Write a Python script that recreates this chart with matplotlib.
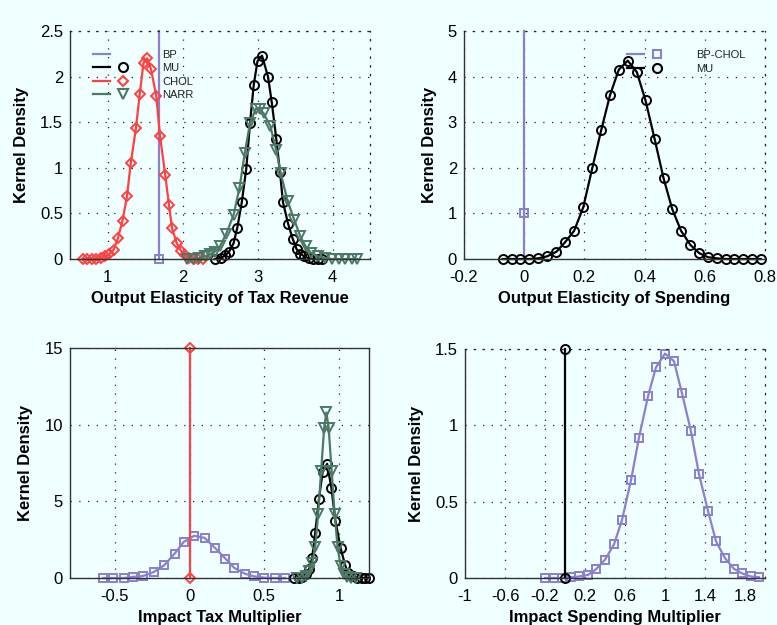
import numpy as np
import matplotlib
matplotlib.use('Agg')
import matplotlib.pyplot as plt
from matplotlib.lines import Line2D
from matplotlib.legend_handler import HandlerTuple
from matplotlib.ticker import FormatStrFormatter

plt.rcParams['font.family'] = ['Liberation Sans', 'DejaVu Sans']
plt.rcParams['axes.unicode_minus'] = False

# colours
BG = '#f0ffff'
PURPLE = '#8a80cf'
RED = '#ff4040'
GREEN = '#4d7866'
BLACK = '#000000'

# ---- top left: output elasticity of tax revenue ----
tl_bp_x = [1.69, 1.69]
tl_bp_y = [0.0, 2.5]

tl_mu_x = [2.43, 2.51, 2.57, 2.62, 2.68, 2.73, 2.79, 2.85, 2.90, 2.95, 3.00, 3.06,
           3.14, 3.19, 3.25, 3.30, 3.34, 3.41, 3.47, 3.52, 3.57, 3.62, 3.68, 3.74, 3.80, 3.86]
tl_mu_y = [0.0, 0.01, 0.04, 0.08, 0.17, 0.34, 0.62, 0.99, 1.49, 1.91, 2.17, 2.23,
           2.0, 1.72, 1.32, 0.95, 0.62, 0.38, 0.22, 0.11, 0.06, 0.03, 0.01, 0.0, 0.0, 0.0]

tl_chol_x = [0.67, 0.73, 0.79, 0.85, 0.91, 0.97, 1.02, 1.08, 1.14, 1.20, 1.26, 1.31,
             1.38, 1.43, 1.48, 1.53, 1.58, 1.65, 1.70, 1.77, 1.82, 1.86, 1.92, 1.98,
             2.03, 2.09, 2.15, 2.21, 2.27]
tl_chol_y = [0.0, 0.0, 0.0, 0.0, 0.01, 0.03, 0.05, 0.10, 0.23, 0.42, 0.69, 1.05,
             1.44, 1.81, 2.15, 2.2, 2.08, 1.79, 1.35, 0.92, 0.59, 0.34, 0.18, 0.09,
             0.04, 0.01, 0.0, 0.0, 0.0]

tl_narr_x = [2.06, 2.14, 2.22, 2.30, 2.37, 2.43, 2.50, 2.58, 2.68, 2.76, 2.83, 2.90,
             2.98, 3.03, 3.08, 3.17, 3.25, 3.31, 3.40, 3.49, 3.57, 3.64, 3.71, 3.80,
             3.90, 3.99, 4.08, 4.17, 4.26, 4.33]
tl_narr_y = [0.0, 0.0, 0.01, 0.03, 0.05, 0.08, 0.14, 0.27, 0.48, 0.78, 1.16, 1.49,
             1.65, 1.64, 1.60, 1.46, 1.19, 0.94, 0.64, 0.43, 0.25, 0.14, 0.07, 0.03,
             0.01, 0.0, 0.0, 0.0, 0.0, 0.0]

# ---- top right: output elasticity of spending ----
tr_bp_x = [0.0, 0.0, 0.0]
tr_bp_y = [0.0, 1.0, 5.0]

tr_mu_x = [-0.072, -0.042, -0.013, 0.017, 0.047, 0.077, 0.107, 0.136, 0.166, 0.196,
           0.226, 0.256, 0.285, 0.314, 0.344, 0.374, 0.403, 0.433, 0.463, 0.492,
           0.521, 0.552, 0.581, 0.610, 0.639, 0.669, 0.698, 0.727, 0.757, 0.786]
tr_mu_y = [0.0, 0.0, 0.0, 0.0, 0.015, 0.06, 0.16, 0.37, 0.62, 1.13, 1.99, 2.83,
           3.59, 4.15, 4.35, 4.10, 3.48, 2.64, 1.77, 1.09, 0.62, 0.31, 0.13, 0.04,
           0.015, 0.0, 0.0, 0.0, 0.0, 0.0]

# ---- bottom left: impact tax multiplier ----
bl_bp_x = [-0.58, -0.51, -0.44, -0.38, -0.31, -0.24, -0.17, -0.10, -0.04, 0.03,
           0.10, 0.17, 0.24, 0.30, 0.37, 0.43, 0.50, 0.57, 0.64]
bl_bp_y = [0.0, 0.0, 0.0, 0.07, 0.13, 0.39, 0.83, 1.59, 2.35, 2.75, 2.62, 1.96,
           1.26, 0.65, 0.28, 0.11, 0.02, 0.0, 0.0]

bl_mu_x = [0.70, 0.73, 0.755, 0.78, 0.80, 0.82, 0.84, 0.865, 0.89, 0.92, 0.948,
           0.975, 1.01, 1.04, 1.06, 1.09, 1.12, 1.15, 1.175, 1.20]
bl_mu_y = [0.0, 0.02, 0.08, 0.25, 0.6, 1.3, 2.95, 5.15, 6.9, 7.45, 5.9, 3.75, 1.95,
           0.85, 0.3, 0.1, 0.03, 0.01, 0.0, 0.0]

bl_chol_x = [0.0, 0.0]
bl_chol_y = [0.0, 15.0]

bl_narr_x = [0.72, 0.75, 0.78, 0.80, 0.82, 0.84, 0.86, 0.88, 0.90, 0.915, 0.93,
             0.95, 0.97, 0.99, 1.01, 1.03, 1.05, 1.08, 1.11]
bl_narr_y = [0.0, 0.02, 0.1, 0.45, 1.0, 2.0, 4.2, 7.0, 9.8, 10.8, 9.8, 7.0, 4.2,
             2.0, 0.8, 0.25, 0.05, 0.0, 0.0]

# ---- bottom right: impact spending multiplier ----
br_bp_x = [-0.20, -0.11, -0.03, 0.06, 0.14, 0.23, 0.31, 0.40, 0.49, 0.57, 0.66,
           0.74, 0.83, 0.91, 1.00, 1.09, 1.17, 1.26, 1.34, 1.43, 1.51, 1.60, 1.69,
           1.77, 1.86, 1.94]
br_bp_y = [0.0, 0.0, 0.0, 0.005, 0.01, 0.02, 0.057, 0.12, 0.22, 0.38, 0.64, 0.92,
           1.19, 1.38, 1.47, 1.42, 1.21, 0.96, 0.68, 0.44, 0.24, 0.13, 0.06, 0.03,
           0.01, 0.005]

br_mu_x = [0.0, 0.0]
br_mu_y = [0.0, 1.5]

W, H = 777, 625
fig = plt.figure(figsize=(W / 100, H / 100), dpi=100, facecolor=BG)


def make_axes(left, top, right, bottom):
    return fig.add_axes([left / W, 1 - bottom / H, (right - left) / W, (bottom - top) / H])


def style_axes(ax, xlim, ylim, xticks, yticks, xlabel, solid_box=False):
    ax.set_facecolor(BG)
    ax.set_xlim(xlim)
    ax.set_ylim(ylim)
    ax.set_xticks(xticks)
    ax.set_yticks(yticks)
    ax.xaxis.set_major_formatter(FormatStrFormatter('%g'))
    ax.yaxis.set_major_formatter(FormatStrFormatter('%g'))
    ax.tick_params(length=0, labelsize=12)
    ax.tick_params(axis='x', pad=8)
    ax.tick_params(axis='y', pad=5)
    ax.grid(True, color='#222222', linestyle=(0, (1, 6)), linewidth=0.9)
    ax.set_axisbelow(True)
    for side in ['left', 'bottom']:
        ax.spines[side].set_color('#333333')
        ax.spines[side].set_linewidth(1.0)
    for side in ['top', 'right']:
        if solid_box:
            ax.spines[side].set_color('#333333')
            ax.spines[side].set_linewidth(1.0)
        else:
            ax.spines[side].set_color('#222222')
            ax.spines[side].set_linestyle((0, (1, 6)))
            ax.spines[side].set_linewidth(0.9)
    ax.set_xlabel(xlabel, fontsize=12, fontweight='bold', labelpad=4)
    ax.set_ylabel('Kernel Density', fontsize=12, fontweight='bold', labelpad=8)


def series(ax, x, y, color, marker, ms=6.5, markevery=None):
    ax.plot(x, y, color=color, lw=1.6, marker=marker, ms=ms, mfc='none', mec=color,
            mew=1.4, markevery=markevery, clip_on=False)


def legend_handle(color, marker, ms=6.5):
    line = Line2D([], [], color=color, lw=1.6)
    mk = Line2D([], [], color=color, linestyle='none', marker=marker, ms=ms,
                mfc='none', mew=1.5)
    return (line, mk)


tuple_handler = {tuple: HandlerTuple(ndivide=None, pad=0.4)}

# top left
ax1 = make_axes(70, 31, 370, 259)
series(ax1, tl_bp_x, tl_bp_y, PURPLE, 's', ms=5.5, markevery=[0])
series(ax1, tl_mu_x, tl_mu_y, BLACK, 'o')
series(ax1, tl_chol_x, tl_chol_y, RED, 'D', ms=5.5)
series(ax1, tl_narr_x, tl_narr_y, GREEN, 'v', ms=7.5)
style_axes(ax1, (0.5, 4.5), (0, 2.5), [1, 2, 3, 4], np.arange(0, 2.51, 0.5),
           'Output Elasticity of Tax Revenue')
h_bp = (Line2D([], [], color=PURPLE, lw=1.6), Line2D([], [], linestyle='none'))
handles = [h_bp, legend_handle(BLACK, 'o'), legend_handle(RED, 'D', 5.5),
           legend_handle(GREEN, 'v', 7.5)]
ax1.legend(handles, ['BP', 'MU', 'CHOL', 'NARR'], loc='upper left',
           bbox_to_anchor=(0.077, 0.918), frameon=False, fontsize=8,
           handlelength=3.5, handletextpad=2.7, labelspacing=0.32,
           borderpad=0, borderaxespad=0, handler_map=tuple_handler,
           labelcolor='#222222')

# top right
ax2 = make_axes(464, 31, 765, 259)
series(ax2, tr_bp_x, tr_bp_y, PURPLE, 's', ms=5.5, markevery=[1])
series(ax2, tr_mu_x, tr_mu_y, BLACK, 'o')
style_axes(ax2, (-0.2, 0.8), (0, 5), np.round(np.arange(-0.2, 0.81, 0.2), 1),
           np.arange(0, 6), 'Output Elasticity of Spending')
ax2.legend([legend_handle(PURPLE, 's', 5.5), legend_handle(BLACK, 'o')],
           ['BP-CHOL', 'MU'], loc='upper left', bbox_to_anchor=(0.541, 0.918),
           frameon=False, fontsize=8, handlelength=3.5, handletextpad=2.7,
           labelspacing=0.38, borderpad=0, borderaxespad=0,
           handler_map=tuple_handler, labelcolor='#222222')

# bottom left
ax3 = make_axes(70, 348, 369, 578)
series(ax3, bl_bp_x, bl_bp_y, PURPLE, 's', ms=5.5)
series(ax3, bl_mu_x, bl_mu_y, BLACK, 'o')
series(ax3, bl_chol_x, bl_chol_y, RED, 'D', ms=5.5)
series(ax3, bl_narr_x, bl_narr_y, GREEN, 'v', ms=7.5)
style_axes(ax3, (-0.8, 1.2), (0, 15), [-0.5, 0, 0.5, 1], [0, 5, 10, 15],
           'Impact Tax Multiplier', solid_box=True)

# bottom right
ax4 = make_axes(465, 349, 765, 578)
series(ax4, br_bp_x, br_bp_y, PURPLE, 's', ms=5.5)
series(ax4, br_mu_x, br_mu_y, BLACK, 'o')
style_axes(ax4, (-1, 2), (0, 1.5), np.round(np.arange(-1, 1.81, 0.4), 1),
           [0, 0.5, 1, 1.5], 'Impact Spending Multiplier')

fig.savefig('out.png', dpi=100, facecolor=BG)
